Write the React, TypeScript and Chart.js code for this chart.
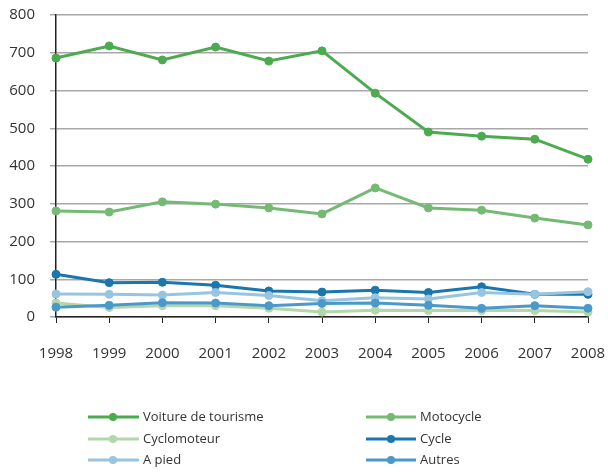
import React, { useEffect, useRef } from "react";
import { Chart, registerables } from "chart.js";

Chart.register(...registerables);

const years = ["1998", "1999", "2000", "2001", "2002", "2003", "2004", "2005", "2006", "2007", "2008"];
const voiture = [686, 718, 681, 715, 678, 705, 593, 490, 479, 471, 418];
const motocycle = [281, 278, 305, 299, 289, 273, 342, 289, 283, 262, 244];
const cyclomoteur = [37, 25, 30, 30, 23, 13, 18, 17, 17, 17, 13];
const cycle = [113, 91, 92, 84, 69, 66, 71, 65, 80, 60, 60];
const aPied = [61, 60, 58, 65, 57, 43, 51, 48, 65, 60, 67];
const autres = [26, 31, 38, 37, 30, 36, 37, 31, 23, 30, 23];

const seriesNames = ["Voiture de tourisme", "Motocycle", "Cyclomoteur", "Cycle", "A pied", "Autres"];
const seriesValues = [voiture, motocycle, cyclomoteur, cycle, aPied, autres];
const seriesColors = ["#4caa4f", "#74ba74", "#b2d7aa", "#1a76ae", "#97c4de", "#4b99ca"];

const FONT = "'Open Sans', sans-serif";
const TEXT = "#333333";

const legendPlugin = {
  id: "customLegend",
  afterDraw(chart: any) {
    const ctx = chart.ctx;
    const cols = [
      { x0: 88, x1: 139, mx: 113, tx: 143 },
      { x0: 366, x1: 416, mx: 391, tx: 420 },
    ];
    const rows = [417, 439, 460];
    ctx.save();
    chart.data.datasets.forEach((ds: any, i: number) => {
      const c = cols[i % 2];
      const y = rows[Math.floor(i / 2)];
      ctx.strokeStyle = ds.borderColor;
      ctx.lineWidth = 3;
      ctx.beginPath();
      ctx.moveTo(c.x0, y);
      ctx.lineTo(c.x1, y);
      ctx.stroke();
      ctx.fillStyle = ds.borderColor;
      ctx.beginPath();
      ctx.arc(c.mx, y, 4, 0, Math.PI * 2);
      ctx.fill();
      ctx.fillStyle = TEXT;
      ctx.font = `13px ${FONT}`;
      ctx.textBaseline = "middle";
      ctx.textAlign = "left";
      ctx.fillText(ds.label, c.tx, y);
    });
    ctx.restore();
  },
};

function zeroPad(scale: any) {
  scale.paddingTop = 0;
  scale.paddingBottom = 0;
  scale.paddingLeft = 0;
  scale.paddingRight = 0;
}

export default function App() {
  const ref = useRef<HTMLCanvasElement | null>(null);
  useEffect(() => {
    if (!ref.current) return;
    const chart = new Chart(ref.current, {
      type: "line",
      data: {
        labels: years,
        datasets: seriesNames.map((name, i) => ({
          label: name,
          data: seriesValues[i],
          borderColor: seriesColors[i],
          backgroundColor: seriesColors[i],
          pointBackgroundColor: seriesColors[i],
          pointBorderColor: seriesColors[i],
          pointRadius: 4,
          pointBorderWidth: 1,
          borderWidth: 3,
          tension: 0,
          fill: false,
          order: 6 - i,
        })),
      },
      options: {
        animation: false,
        responsive: false,
        maintainAspectRatio: false,
        layout: { padding: { left: 0, top: 15, right: 20, bottom: 105 } },
        plugins: {
          legend: { display: false },
          tooltip: { enabled: false },
        },
        scales: {
          x: {
            offset: false,
            grid: {
              drawOnChartArea: false,
              drawTicks: true,
              tickLength: 6,
              color: "#222222",
            },
            border: { display: true, color: "#222222", width: 1.5 },
            ticks: {
              color: TEXT,
              font: { family: FONT, size: 15 },
              padding: 22,
              maxRotation: 0,
              autoSkip: false,
            },
            afterFit(scale: any) {
              scale.height = 50;
              zeroPad(scale);
            },
          },
          y: {
            min: 0,
            max: 800,
            grid: {
              color: "#a8a8a8",
              lineWidth: 1.5,
              tickLength: 6,
              drawTicks: true,
            },
            border: { display: true, color: "#222222", width: 1.5 },
            ticks: {
              stepSize: 100,
              color: TEXT,
              font: { family: FONT, size: 15 },
              padding: 15,
            },
            afterFit(scale: any) {
              scale.width = 56;
              zeroPad(scale);
            },
          },
        },
      },
      plugins: [legendPlugin],
    });
    return () => chart.destroy();
  }, []);
  return (
    <div style={{ position: "fixed", left: 0, top: 0, width: 608, height: 472, background: "#fff" }}>
      <canvas ref={ref} width={608} height={472} style={{ width: 608, height: 472, display: "block" }} />
    </div>
  );
}
